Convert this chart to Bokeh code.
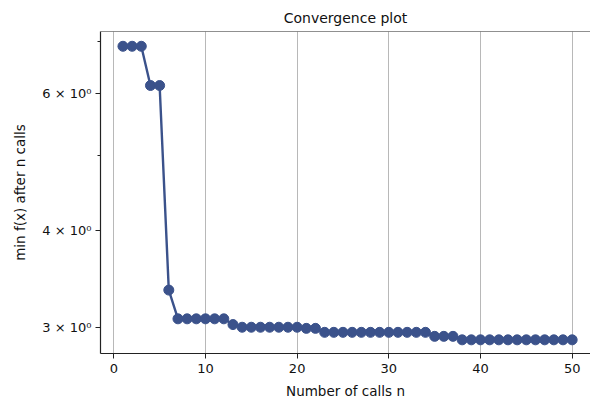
from bokeh.plotting import figure
from bokeh.models import FixedTicker, Span, Range1d
from bokeh.embed import file_html
from bokeh.resources import INLINE

# data
calls = [1, 2, 3, 4, 5, 6, 7, 8, 9, 10,
         11, 12, 13, 14, 15, 16, 17, 18, 19, 20,
         21, 22, 23, 24, 25, 26, 27, 28, 29, 30,
         31, 32, 33, 34, 35, 36, 37, 38, 39, 40,
         41, 42, 43, 44, 45, 46, 47, 48, 49, 50]
min_f = [6.91, 6.91, 6.91, 6.15, 6.15, 3.35, 3.076, 3.076, 3.076, 3.076,
         3.076, 3.076, 3.024, 3.00, 3.00, 3.00, 3.00, 3.00, 3.00, 3.00,
         2.99, 2.99, 2.955, 2.955, 2.955, 2.955, 2.955, 2.955, 2.955, 2.955,
         2.955, 2.955, 2.955, 2.955, 2.92, 2.92, 2.92, 2.89, 2.89, 2.89,
         2.89, 2.89, 2.89, 2.89, 2.89, 2.89, 2.89, 2.89, 2.89, 2.89]
x_ticks = [0, 10, 20, 30, 40, 50]
y_ticks = [3, 4, 6]
y_minor = [5, 7]
y_labels = {3: "3 × 10⁰", 4: "4 × 10⁰", 6: "6 × 10⁰"}

FONT = "DejaVu Sans"
y_lo, y_hi = 2.775, 7.22

p = figure(width=590, height=401, output_backend="svg", toolbar_location=None,
           y_axis_type="log", x_range=Range1d(-1.45, 52.0), y_range=Range1d(y_lo, y_hi),
           min_border_left=100, min_border_right=0, min_border_top=31, min_border_bottom=48,
           title="Convergence plot")
p.outline_line_color = None
p.background_fill_color = "white"
p.border_fill_color = "white"

p.title.align = "center"
p.title.text_font = FONT
p.title.text_font_size = "14px"
p.title.text_font_style = "normal"
p.title.text_color = "#111111"
p.title.offset = 0
p.title.standoff = 12

color = "#3b528b"
p.line(calls, min_f, line_color=color, line_width=2.4)
p.scatter(calls, min_f, size=10, fill_color=color, line_color=color)

# top spine
p.add_layout(Span(location=y_hi, dimension="width", line_color="#222222", line_width=1.2))

p.xaxis.ticker = FixedTicker(ticks=x_ticks, minor_ticks=[])
p.yaxis.ticker = FixedTicker(ticks=y_ticks, minor_ticks=y_minor)
p.yaxis.major_label_overrides = y_labels

for ax in (p.xaxis[0], p.yaxis[0]):
    ax.axis_line_color = "#222222"
    ax.axis_line_width = 1.2
    ax.major_tick_line_color = "#222222"
    ax.minor_tick_line_color = "#222222"
    ax.major_tick_in = 0
    ax.major_tick_out = 5
    ax.minor_tick_in = 0
    ax.minor_tick_out = 3
    ax.major_label_text_font = FONT
    ax.major_label_text_font_size = "13px"
    ax.major_label_text_color = "#111111"
    ax.axis_label_text_font = FONT
    ax.axis_label_text_font_size = "13.5px"
    ax.axis_label_text_font_style = "normal"
    ax.axis_label_text_color = "#111111"

p.xaxis.major_label_standoff = 5
p.xaxis.axis_label_standoff = 7
p.yaxis.major_label_standoff = 4
p.yaxis.axis_label_standoff = 11

p.xaxis.axis_label = "Number of calls n"
p.yaxis.axis_label = "min f(x) after n calls"

p.xgrid.grid_line_color = "#b8b8b8"
p.xgrid.grid_line_width = 1
p.ygrid.grid_line_color = None

open("out.html", "w").write(file_html(p, INLINE))
